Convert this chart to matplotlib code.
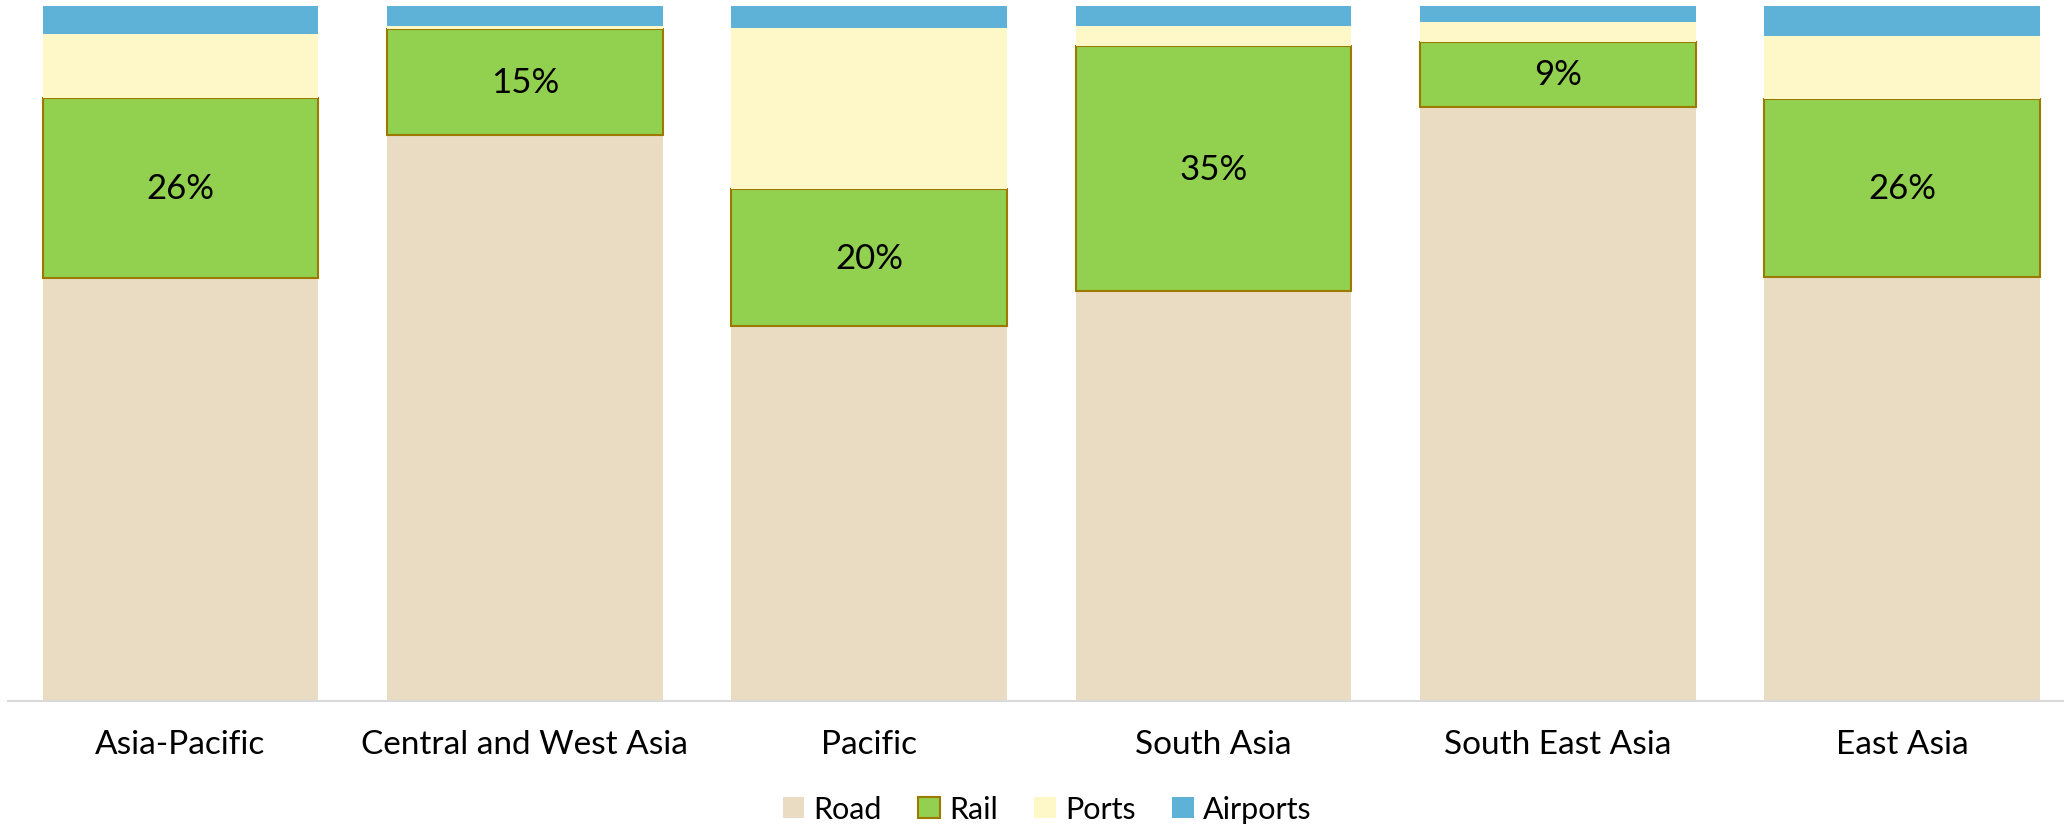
import numpy as np
import matplotlib
matplotlib.use("Agg")
import matplotlib.pyplot as plt

regions = ["Asia-Pacific", "Central and West Asia", "Pacific",
           "South Asia", "South East Asia", "East Asia"]
road = [60.9, 81.4, 53.9, 59.0, 85.5, 61.0]
rail = [25.8, 15.3, 19.7, 35.2, 9.3, 25.6]
ports = [9.3, 0.4, 23.2, 2.9, 2.9, 9.1]
airports = [4.0, 2.9, 3.2, 2.9, 2.3, 4.3]

plt.rcParams['font.family'] = ['Lato', 'DejaVu Sans']

fig = plt.figure(figsize=(20.64, 8.29), dpi=100, facecolor='white')
ax = fig.add_axes([8.3 / 2064, 127 / 829, 2066 / 2064, 695 / 829])

x = np.arange(len(regions))
w = 0.8
road = np.array(road)
rail = np.array(rail)
ports = np.array(ports)
airports = np.array(airports)

ax.bar(x, road, w, color='#EADCC3', label='Road')
ax.bar(x, rail, w, bottom=road, color='#92D050', edgecolor='#9C7A00',
       linewidth=1.5, label='Rail')
ax.bar(x, ports, w, bottom=road + rail, color='#FEF7C7', label='Ports')
ax.bar(x, airports, w, bottom=road + rail + ports, color='#5EB2D8', label='Airports')

for xi, b, v in zip(x, road, rail):
    ax.text(xi, b + v / 2, f"{v:.0f}%", ha='center', va='center',
            fontsize=25, color='black')

ax.set_xlim(-0.5, len(regions) - 0.5)
ax.set_ylim(0, 100)
ax.set_xticks(x)
ax.set_xticklabels(regions, fontsize=24)
ax.tick_params(axis='x', length=0, pad=20)
ax.set_yticks([])
for s in ['top', 'right', 'left']:
    ax.spines[s].set_visible(False)
ax.spines['bottom'].set_color('#D9D9D9')
ax.spines['bottom'].set_linewidth(1.5)

fig.legend(loc='center', bbox_to_anchor=(1047 / 2064, 1 - 810 / 829), ncol=4,
           frameon=False, fontsize=22, handlelength=0.7, handleheight=0.7,
           handletextpad=0.3, columnspacing=1.2)

fig.savefig('out.png', dpi=100, facecolor='white')
